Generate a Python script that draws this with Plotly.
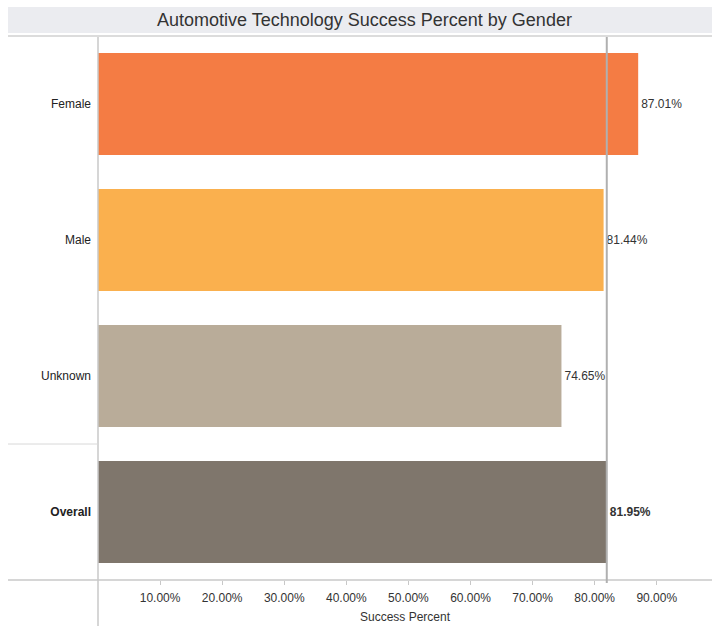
import plotly.graph_objects as go

# Success percent by gender
categories = ["Female", "Male", "Unknown", "Overall"]
success_pct = [87.01, 81.44, 74.65, 81.95]
bar_colors = ["#F47C44", "#FAB04E", "#B9AC99", "#7F766C"]
tick_vals = [10, 20, 30, 40, 50, 60, 70, 80, 90]
tick_text = ["10.00%", "20.00%", "30.00%", "40.00%", "50.00%",
             "60.00%", "70.00%", "80.00%", "90.00%"]
overall_value = success_pct[categories.index("Overall")]

W, H = 712, 626
ML, MR, MT, MB = 98, 0, 36, 46
PW, PH = W - ML - MR, H - MT - MB


def px_x(px):
    return (px - ML) / PW


def px_y(py):
    return (H - MB - py) / PH


def bold_if_overall(cat, s):
    return f"<b>{s}</b>" if cat == "Overall" else s


labels = [bold_if_overall(c, f"{v:.2f}%") for c, v in zip(categories, success_pct)]
y_ticktext = [bold_if_overall(c, c) for c in categories]

FONT = "Liberation Sans, Arial, sans-serif"

fig = go.Figure(
    go.Bar(
        x=success_pct,
        y=categories,
        orientation="h",
        marker=dict(color=bar_colors, line=dict(width=0)),
        text=labels,
        textposition="outside",
        textfont=dict(family=FONT, size=12, color="#333333"),
        cliponaxis=False,
        hoverinfo="skip",
    )
)

shapes = [
    # title band
    dict(type="rect", xref="paper", yref="paper",
         x0=px_x(8), x1=px_x(W), y0=px_y(33), y1=px_y(7),
         fillcolor="#EBECF0", line=dict(width=0), layer="below"),
    dict(type="line", xref="paper", yref="paper",
         x0=px_x(8), x1=px_x(W), y0=px_y(36), y1=px_y(36),
         line=dict(color="#D0D0D0", width=1.5)),
    # left axis line
    dict(type="line", xref="paper", yref="paper",
         x0=0, x1=0, y0=px_y(H), y1=px_y(37),
         line=dict(color="#C8C8C8", width=1.5)),
    # bottom axis line
    dict(type="line", xref="paper", yref="paper",
         x0=px_x(8), x1=1, y0=0, y1=0,
         line=dict(color="#C8C8C8", width=1.5)),
    # row separator above Overall
    dict(type="line", xref="paper", yref="y",
         x0=px_x(8), x1=0, y0=2.5, y1=2.5,
         line=dict(color="#D8D8D8", width=1)),
    # overall reference line
    dict(type="line", xref="x", yref="paper",
         x0=overall_value, x1=overall_value, y0=px_y(583), y1=px_y(37),
         line=dict(color="#B0B0B0", width=2)),
]

fig.update_layout(
    width=W, height=H,
    margin=dict(l=ML, r=MR, t=MT, b=MB),
    paper_bgcolor="white", plot_bgcolor="white",
    font=dict(family=FONT, size=12, color="#333333"),
    bargap=0.25,
    showlegend=False,
    shapes=shapes,
    annotations=[
        dict(text="Automotive Technology Success Percent by Gender",
             xref="paper", yref="paper", x=px_x(364), y=px_y(20),
             xanchor="center", yanchor="middle", showarrow=False,
             font=dict(family=FONT, size=18, color="#333333")),
    ],
    xaxis=dict(
        range=[0, 98.9], tickvals=tick_vals, ticktext=tick_text,
        showgrid=False, zeroline=False, showline=False,
        ticks="outside", ticklen=4, tickcolor="#C8C8C8",
        ticklabelstandoff=3,
        tickfont=dict(family=FONT, size=12, color="#333333"),
        title=dict(text="Success Percent", standoff=8,
                   font=dict(family=FONT, size=12, color="#333333")),
        fixedrange=True,
    ),
    yaxis=dict(
        categoryorder="array", categoryarray=categories,
        tickvals=categories, ticktext=y_ticktext,
        autorange="reversed",
        showgrid=False, zeroline=False, showline=False,
        ticks="", ticklabelstandoff=6,
        tickfont=dict(family=FONT, size=12, color="#222222"),
        fixedrange=True,
    ),
)

fig.write_html("out.html")
